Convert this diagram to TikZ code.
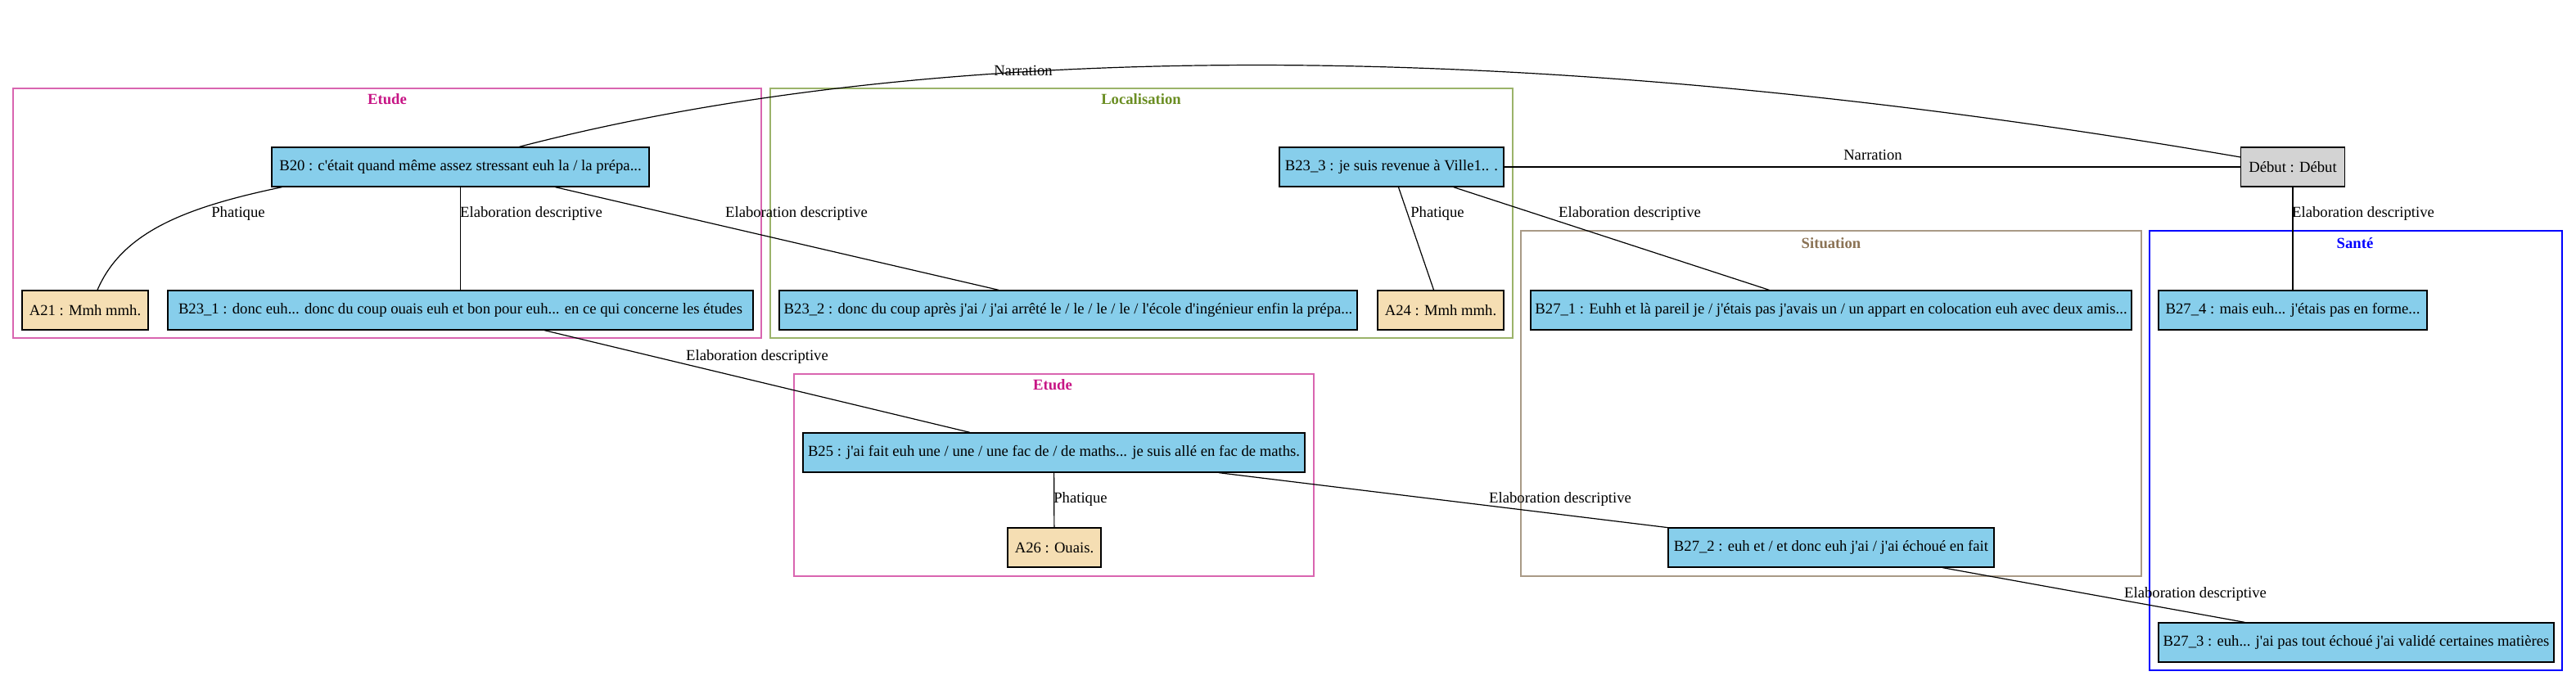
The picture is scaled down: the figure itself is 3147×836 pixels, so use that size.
\documentclass[tikz,border=0pt]{standalone}
\usepackage{fontspec}
\setmainfont{Liberation Serif}
\usetikzlibrary{calc}
\definecolor{skyb}{HTML}{87CEEB}
\definecolor{wheatc}{HTML}{F5DEB3}
\definecolor{greyc}{HTML}{D3D3D3}
\definecolor{etudec}{HTML}{C71585}
\definecolor{etudeb}{HTML}{D965B0}
\definecolor{locc}{HTML}{6B8E23}
\definecolor{locb}{HTML}{9BB36A}
\definecolor{sitc}{HTML}{8B7355}
\definecolor{sitb}{HTML}{A99A86}
\definecolor{santec}{HTML}{0000FF}
\newcommand\apos{\textquotesingle}
\begin{document}
\begin{tikzpicture}[x=0.75pt,y=-0.75pt,
  txt/.style={font=\fontsize{14pt}{17pt}\selectfont},
  ubox/.style={txt,draw=black,line width=1pt,inner sep=0pt,minimum height=36pt,minimum width=#1*0.75pt},
  bbox/.style={ubox=#1,fill=skyb},
  abox/.style={ubox=#1,fill=wheatc},
  gbox/.style={ubox=#1,fill=greyc},
  lab/.style={txt,inner sep=0pt},
  ctitle/.style={font=\fontsize{14pt}{17pt}\selectfont\bfseries,inner sep=0pt},
  clus/.style={line width=1pt},
  conn/.style={draw=black,line width=0.9pt}]
\fill[white] (0,0) rectangle (3147,836);
\useasboundingbox (0,0) rectangle (3147,836);
% clusters
\draw[clus,etudeb] (16,108) rectangle (930,413);
\node[ctitle,text=etudec] (t1) at (473,121) {Etude};
\draw[clus,locb] (941,108) rectangle (1848,413);
\node[ctitle,text=locc] (t2) at (1394,121) {Localisation};
\draw[clus,etudeb] (970,457) rectangle (1605,704);
\node[ctitle,text=etudec] (t3) at (1286,470) {Etude};
\draw[clus,sitb] (1858,282) rectangle (2616,704);
\node[ctitle,text=sitc] (t4) at (2237,297) {Situation};
\draw[clus,santec] (2626,282) rectangle (3130,819);
\node[ctitle,text=santec] (t5) at (2877,297) {Santé};
% nodes
\node[bbox=461] (B20) at (562.5,204) {B20 : c\apos était quand même assez stressant euh la / la prépa...};
\node[abox=154] (A21) at (104,379) {A21 : Mmh mmh.};
\node[bbox=715] (B231) at (562.5,379) {B23\_1 : donc euh... donc du coup ouais euh et bon pour euh... en ce qui concerne les études};
\node[bbox=274] (B233) at (1700,204) {B23\_3 : je suis revenue à Ville1.. .};
\node[bbox=706] (B232) at (1305,379) {B23\_2 : donc du coup après j\apos ai / j\apos ai arrêté le / le / le / le / l\apos école d\apos ingénieur enfin la prépa...};
\node[abox=154] (A24) at (1760,379) {A24 : Mmh mmh.};
\node[gbox=126.5] (debut) at (2801,204) {Début : Début};
\node[bbox=734] (B271) at (2237,379) {B27\_1 : Euhh et là pareil je / j\apos étais pas j\apos avais un / un appart en colocation euh avec deux amis...};
\node[bbox=328] (B274) at (2801,379) {B27\_4 : mais euh... j\apos étais pas en forme...};
\node[bbox=613] (B25) at (1287.5,553) {B25 : j\apos ai fait euh une / une / une fac de / de maths... je suis allé en fac de maths.};
\node[abox=114] (A26) at (1288,669) {A26 : Ouais.};
\node[bbox=398] (B272) at (2237,669) {B27\_2 : euh et / et donc euh j\apos ai / j\apos ai échoué en fait};
\node[bbox=483] (B273) at (2878.5,785) {B27\_3 : euh... j\apos ai pas tout échoué j\apos ai validé certaines matières};
% connectors
\draw[conn] ($(B20.north)+(72,0)$) .. controls +(500,-130) and +(-890,-153) .. ($(debut.west)+(0,-12)$);
\draw[conn] ($(B20.south west)+(13,0)$) .. controls +(-120,25) and +(30,-70) .. ($(A21.north)+(15,0)$);
\draw[conn] (B20) -- (B231);
\draw[conn] ($(B20.south)+(116,0)$) -- ($(B232.north)+(-85,0)$);
\draw[conn] (B231) -- (B25);
\draw[conn] (B25) -- (A26);
\draw[conn] (B25) -- (B272);
\draw[conn] (B272) -- (B273);
\draw[conn] (B233) -- (A24);
\draw[conn] (B233) -- (B271);
\draw[conn] (B233) -- (debut);
\draw[conn] (debut) -- (B274);
% labels
\node[lab] (l1) at (1250,86) {Narration};
\node[lab] (l2) at (291,261) {Phatique};
\node[lab] (l3) at (649,261) {Elaboration descriptive};
\node[lab] (l4) at (973,261) {Elaboration descriptive};
\node[lab] (l5) at (1756,261) {Phatique};
\node[lab] (l6) at (2288,189) {Narration};
\node[lab] (l7) at (1991,261) {Elaboration descriptive};
\node[lab] (l8) at (2887,261) {Elaboration descriptive};
\node[lab] (l9) at (925,436) {Elaboration descriptive};
\node[lab] (l10) at (1320,610) {Phatique};
\node[lab] (l11) at (1906,610) {Elaboration descriptive};
\node[lab] (l12) at (2682,726) {Elaboration descriptive};
\end{tikzpicture}
\end{document}
